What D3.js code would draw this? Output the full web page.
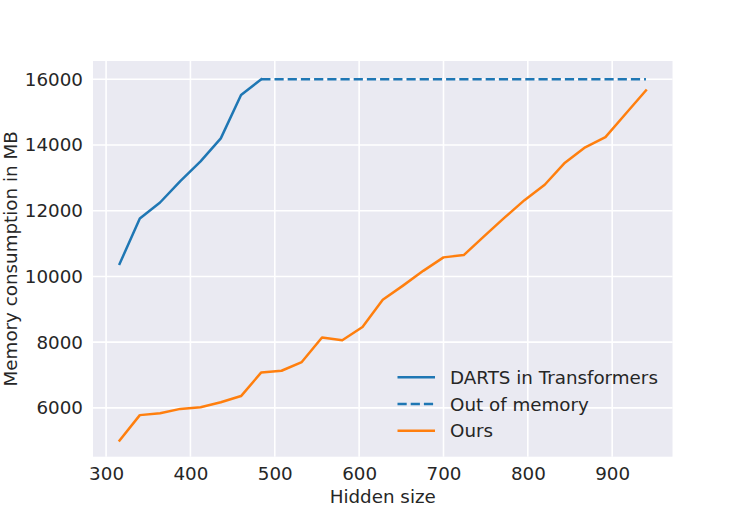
<!DOCTYPE html>
<html>
<head>
<meta charset="utf-8">
<script src="https://cdn.jsdelivr.net/npm/d3@7"></script>
<style>
  html, body { margin: 0; padding: 0; background: #ffffff; }
  svg { display: block; font-family: "DejaVu Sans", sans-serif; }
</style>
</head>
<body>
<svg id="chart" width="747" height="514"></svg>
<script>
// ---- data ----
const hiddenSizes = [316, 340, 364, 388, 412, 436, 460, 484, 508, 532, 556, 580, 604, 628,
                     652, 676, 700, 724, 748, 772, 796, 820, 844, 868, 892, 916, 940];
const dartsSizes = [316, 340, 364, 388, 412, 436, 460, 484];
const dartsMemory = [10380, 11760, 12250, 12900, 13500, 14200, 15520, 16000];
const oomSizes = [484, 940];
const oomMemory = [16000, 16000];
const oursMemory = [5010, 5780, 5840, 5970, 6020, 6170, 6360, 7080, 7130, 7395, 8140, 8060, 8460, 9290,
                    9720, 10170, 10580, 10650, 11220, 11780, 12320, 12790, 13460, 13930, 14240, 14950, 15660];
const xTicks = [300, 400, 500, 600, 700, 800, 900];
const yTicks = [6000, 8000, 10000, 12000, 14000, 16000];
const legendLabels = ["DARTS in Transformers", "Out of memory", "Ours"];

// ---- layout ----
const plot = { left: 93, right: 672.5, top: 61, bottom: 456.7 };
const textColor = "#262626";
const blue = "#1f77b4", orange = "#ff7f0e";
const fs = "18.3px";

const svg = d3.select("#chart");

const x = d3.scaleLinear().domain([284.5, 971.5]).range([plot.left, plot.right]);
const y = d3.scaleLinear().domain([4515, 16555]).range([plot.bottom, plot.top]);

// background
svg.append("rect")
  .attr("x", plot.left).attr("y", plot.top)
  .attr("width", plot.right - plot.left).attr("height", plot.bottom - plot.top)
  .attr("fill", "#EAEAF2");

// grid
const grid = svg.append("g");
grid.selectAll("line.vx").data(xTicks).enter().append("line")
  .attr("x1", d => x(d)).attr("x2", d => x(d))
  .attr("y1", plot.top).attr("y2", plot.bottom)
  .attr("stroke", "#ffffff").attr("stroke-width", 1.6);
grid.selectAll("line.hy").data(yTicks).enter().append("line")
  .attr("y1", d => y(d)).attr("y2", d => y(d))
  .attr("x1", plot.left).attr("x2", plot.right)
  .attr("stroke", "#ffffff").attr("stroke-width", 1.6);

// axes (tick labels only)
const xAxis = d3.axisBottom(x).tickValues(xTicks).tickSize(0).tickPadding(10.5).tickFormat(d3.format("d"));
const gx = svg.append("g").attr("transform", `translate(0,${plot.bottom})`).call(xAxis);
gx.select(".domain").remove();
gx.selectAll("text").attr("fill", textColor).style("font-size", fs).style("font-family", "DejaVu Sans");

const yAxis = d3.axisLeft(y).tickValues(yTicks).tickSize(0).tickPadding(10).tickFormat(d3.format("d"));
const gy = svg.append("g").attr("transform", `translate(${plot.left},0)`).call(yAxis);
gy.select(".domain").remove();
gy.selectAll("text").attr("fill", textColor).style("font-size", fs).style("font-family", "DejaVu Sans");

// axis labels
svg.append("text")
  .attr("x", (plot.left + plot.right) / 2).attr("y", 503)
  .attr("text-anchor", "middle").attr("fill", textColor)
  .style("font-size", fs).text("Hidden size");
svg.append("text")
  .attr("transform", `translate(17,${(plot.top + plot.bottom) / 2}) rotate(-90)`)
  .attr("text-anchor", "middle").attr("fill", textColor)
  .style("font-size", fs).text("Memory consumption in MB");

// lines
const line = d3.line().x(d => x(d[0])).y(d => y(d[1]));
const lw = 2.5;
const dash = "9.2,4";
svg.append("path")
  .datum(d3.zip(dartsSizes, dartsMemory))
  .attr("d", line).attr("fill", "none")
  .attr("stroke", blue).attr("stroke-width", lw)
  .attr("stroke-linecap", "square").attr("stroke-linejoin", "round");
svg.append("path")
  .datum(d3.zip(oomSizes, oomMemory))
  .attr("d", line).attr("fill", "none")
  .attr("stroke", blue).attr("stroke-width", lw)
  .attr("stroke-dasharray", dash);
svg.append("path")
  .datum(d3.zip(hiddenSizes, oursMemory))
  .attr("d", line).attr("fill", "none")
  .attr("stroke", orange).attr("stroke-width", lw)
  .attr("stroke-linecap", "square").attr("stroke-linejoin", "round");

// legend
const legendStyles = [
  { color: blue, dash: null },
  { color: blue, dash: dash },
  { color: orange, dash: null }
];
const legendY = [377.3, 404, 430.7];
const lg = svg.append("g");
legendLabels.forEach((lab, i) => {
  const row = lg.append("g").attr("transform", `translate(0,${legendY[i]})`);
  const ln = row.append("line")
    .attr("x1", 397.5).attr("x2", 435).attr("y1", 0).attr("y2", 0)
    .attr("stroke", legendStyles[i].color).attr("stroke-width", lw);
  if (legendStyles[i].dash) ln.attr("stroke-dasharray", legendStyles[i].dash);
  row.append("text")
    .attr("x", 450).attr("y", 0).attr("dy", "0.36em")
    .attr("fill", textColor).style("font-size", fs).text(lab);
});
</script>
</body>
</html>
